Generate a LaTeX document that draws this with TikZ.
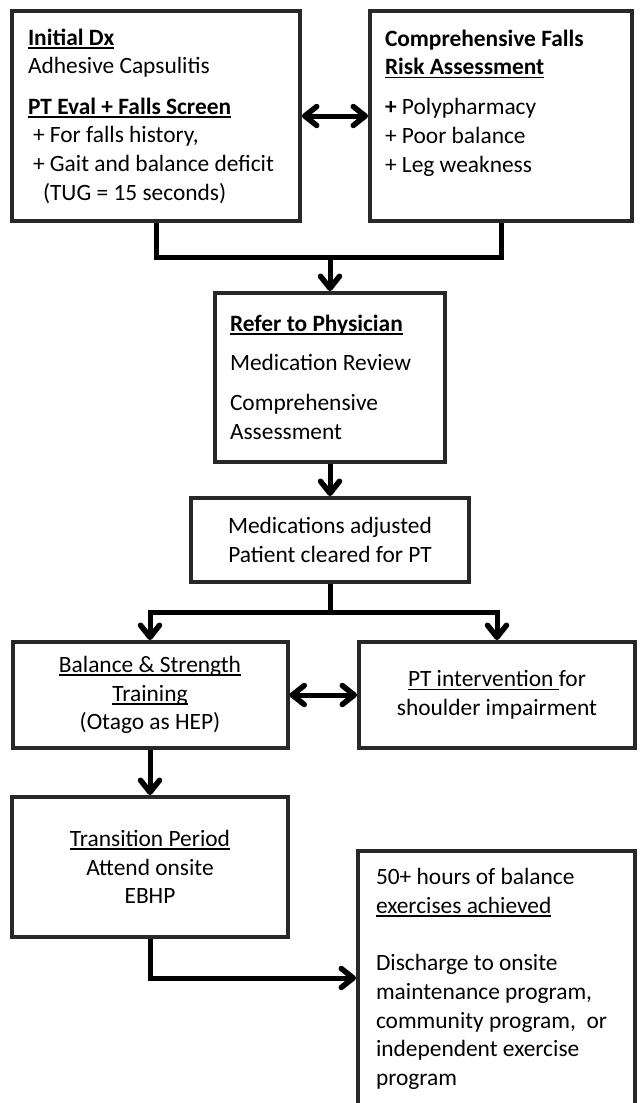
\documentclass[tikz,border=0pt]{standalone}
\usepackage{fontspec}
\setmainfont{Carlito}
\usepackage{tikz}
\usetikzlibrary{arrows.meta,positioning,calc}
\definecolor{boxgray}{RGB}{40,40,40}
\newsavebox{\undlbox}
\newcommand{\undl}[1]{\leavevmode\sbox{\undlbox}{#1}\hbox{\rlap{\rule[-3.6pt]{\wd\undlbox}{1.7pt}}\usebox{\undlbox}}}
\tikzset{
  flowbox/.style={rectangle, draw=boxgray, line width=4pt, fill=white, inner sep=0pt, font=\fontsize{23.4}{28.7}\selectfont},
  leftbox/.style={flowbox, align=flush left},
  midbox/.style={flowbox, align=center},
  conn/.style={line width=5pt, black},
  arr/.style={conn, ->},
  dblarr/.style={conn, <->}
}
\begin{document}
\begin{tikzpicture}[x=1pt, y=-1pt, >={Straight Barb[length=12pt,width=19pt,line width=5.5pt,round]}]
\useasboundingbox (0,0) rectangle (640,1103);
\clip (0,0) rectangle (640,1103);
\node[leftbox, text width=256pt, inner xsep=16pt, minimum height=210pt] (dx) at (156,116)
  {\textbf{\undl{Initial Dx}}\\
   Adhesive Capsulitis\\[11.5pt]
   \textbf{\undl{PT Eval + Falls Screen}}\\
   \hspace*{5pt}+ For falls history,\\
   \hspace*{5pt}+ Gait and balance deficit\\
   \hspace*{15pt}(TUG = 15 seconds)};
\node[leftbox, text width=232pt, inner xsep=15pt, minimum height=210pt] (risk) at (501,116)
  {\textbf{Comprehensive Falls}\\
   \textbf{\undl{Risk Assessment}}\\[11.5pt]
   \textbf{+} Polypharmacy\\
   + Poor balance\\
   + Leg weakness\\[1.3pt]
   \mbox{}};
\node[leftbox, text width=200pt, inner xsep=15pt, minimum height=169pt] (refer) at (330,377.5)
  {\textbf{\undl{Refer to Physician}}\\[10pt]
   Medication Review\\[12pt]
   Comprehensive\\
   Assessment};
\node[midbox, minimum width=278pt, minimum height=84pt] (meds) at (330,540)
  {Medications adjusted\\
   Patient cleared for PT};
\node[midbox, minimum width=275pt, minimum height=106pt] (bal) at (150,695)
  {\undl{Balance \& Strength}\\
   \undl{Training}\\
   (Otago as HEP)};
\node[midbox, minimum width=276pt, minimum height=106pt] (shld) at (497,695)
  {\undl{PT intervention }for\\
   shoulder impairment};
\node[midbox, minimum width=276pt, minimum height=140pt] (trans) at (150,867)
  {\undl{Transition Period}\\
   Attend onsite\\
   EBHP};
\node[leftbox, text width=241pt, inner xsep=18pt, minimum height=256pt] (dis) at (496.5,979)
  {50+ hours of balance\\
   \undl{exercises achieved}\\[28.7pt]
   Discharge to onsite\\
   maintenance program,\\
   community program,~ or\\
   independent exercise\\
   program};
\coordinate (j1) at (330,257);
\coordinate (j2) at (330,612);
\coordinate (j3) at (150,978);
\draw[dblarr] (dx.east) -- (risk.west);
\draw[conn] (dx.south) |- (j1) -| (risk.south);
\draw[arr] (j1) -- (refer.north);
\draw[arr] (refer.south) -- (meds.north);
\draw[conn] (meds.south) -- (j2);
\draw[arr] (j2) -| (bal.north);
\draw[arr] (j2) -| (shld.north);
\draw[dblarr] (bal.east) -- (shld.west);
\draw[arr] (bal.south) -- (trans.north);
\draw[arr] (trans.south) |- (j3 -| dis.west);
\end{tikzpicture}
\end{document}
